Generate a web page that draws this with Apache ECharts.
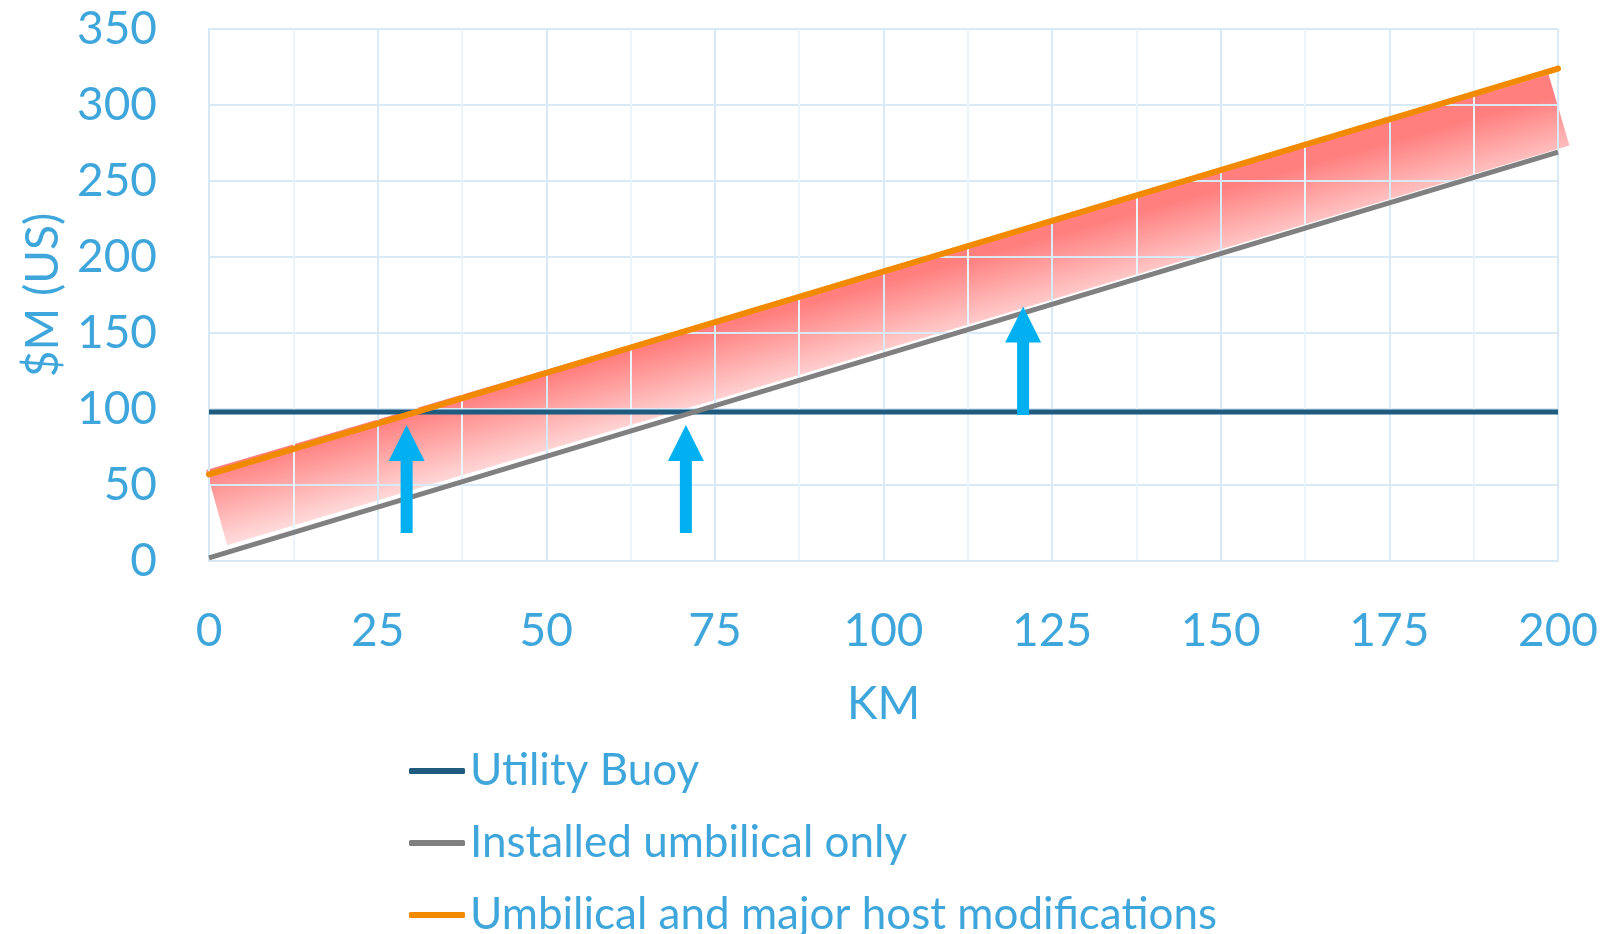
<!DOCTYPE html>
<html>
<head>
<meta charset="utf-8">
<title>Utility buoy vs umbilical cost</title>
<script src="https://cdn.jsdelivr.net/npm/echarts@6/dist/echarts.min.js"></script>
<style>
  html, body { margin: 0; padding: 0; background: #fff; }
  #chart { width: 1603px; height: 934px; }
</style>
</head>
<body>
<div id="chart"></div>
<script>
// values
var seriesNames = ['Utility Buoy', 'Installed umbilical only', 'Umbilical and major host modifications'];
var kmPoints = [0, 200];
var utilityBuoy = [98, 98];
var umbilicalOnly = [2, 269];
var umbilicalHost = [57, 324];

// shaded band behind the lines (corners, in km / $M)
var bandX = [-0.4, 198.6, 201.7, 2.7];
var bandY = [59.8, 320, 273.3, 10.3];

// arrows: km position, foot value, tip value
var arrowX = [29.3, 70.7, 120.7];
var arrowFrom = [18.5, 18.5, 96];
var arrowTo = [89.4, 89.4, 167.4];

var textColor = '#3fa6dc';
var font = 'Lato';

function pairs(xs, ys) {
  return xs.map(function (x, i) { return [x, ys[i]]; });
}

var chart = echarts.init(document.getElementById('chart'));

var option = {
  animation: false,
  grid: { left: 209, right: 45, top: 29, bottom: 373, containLabel: false },
  legend: {
    orient: 'vertical',
    left: 404,
    top: 744,
    height: 400,
    itemWidth: 56,
    itemHeight: 6,
    itemGap: 28,
    icon: 'roundRect',
    data: seriesNames,
    textStyle: { color: textColor, fontSize: 44, fontFamily: font, lineHeight: 44 }
  },
  xAxis: {
    type: 'value',
    min: 0,
    max: 200,
    interval: 25,
    name: 'KM',
    nameLocation: 'middle',
    nameGap: 120,
    nameTextStyle: { color: textColor, fontSize: 46, fontFamily: font },
    axisLine: { show: true, lineStyle: { color: '#d6e8f5', width: 2 } },
    axisTick: { show: false },
    axisLabel: { color: textColor, fontSize: 46, fontFamily: font, margin: 47 },
    splitLine: { show: true, lineStyle: { color: '#d9eaf6', width: 2 } },
    minorTick: { show: false, splitNumber: 2 },
    minorSplitLine: { show: true, lineStyle: { color: '#ebf4fb', width: 2 } }
  },
  yAxis: {
    type: 'value',
    min: 0,
    max: 350,
    interval: 50,
    name: '$M (US)',
    nameLocation: 'middle',
    nameGap: 140,
    nameTextStyle: { color: textColor, fontSize: 46, fontFamily: font },
    axisLine: { show: true, lineStyle: { color: '#d6e8f5', width: 2 } },
    axisTick: { show: false },
    axisLabel: { color: textColor, fontSize: 46, fontFamily: font, margin: 52 },
    splitLine: { show: true, lineStyle: { color: '#d9eaf6', width: 2 } }
  },
  series: [
    {
      type: 'custom',
      name: 'band',
      z: -1,
      clip: false,
      silent: true,
      data: [[0]],
      renderItem: function (params, api) {
        var pts = bandX.map(function (x, i) { return api.coord([x, bandY[i]]); });
        return {
          type: 'polygon',
          shape: { points: pts },
          style: {
            fill: {
              type: 'linear',
              x: pts[0][0], y: pts[0][1],
              x2: pts[3][0], y2: pts[3][1],
              global: true,
              colorStops: [
                { offset: 0, color: '#ff7e7e' },
                { offset: 1, color: '#ffdcdc' }
              ]
            }
          }
        };
      }
    },
    {
      type: 'line',
      name: seriesNames[0],
      data: pairs(kmPoints, utilityBuoy),
      showSymbol: false,
      color: '#1e5b7e',
      lineStyle: { width: 5, color: '#1e5b7e' }
    },
    {
      type: 'line',
      name: seriesNames[1],
      data: pairs(kmPoints, umbilicalOnly),
      showSymbol: false,
      color: '#808080',
      lineStyle: { width: 5, color: '#808080' }
    },
    {
      type: 'line',
      name: seriesNames[2],
      data: pairs(kmPoints, umbilicalHost),
      showSymbol: false,
      color: '#f28a00',
      lineStyle: { width: 6, color: '#f28a00', cap: 'round' }
    },
    {
      type: 'custom',
      name: 'arrows',
      z: 10,
      clip: false,
      silent: true,
      data: arrowX.map(function (x, i) { return [x, arrowFrom[i], arrowTo[i]]; }),
      renderItem: function (params, api) {
        var foot = api.coord([api.value(0), api.value(1)]);
        var tip = api.coord([api.value(0), api.value(2)]);
        var headH = 36, headW = 36, shaftW = 12;
        var cx = tip[0];
        return {
          type: 'group',
          children: [
            {
              type: 'rect',
              shape: { x: cx - shaftW / 2, y: tip[1] + headH - 1, width: shaftW, height: foot[1] - tip[1] - headH + 1 },
              style: { fill: '#00b0f0' }
            },
            {
              type: 'polygon',
              shape: { points: [[cx, tip[1]], [cx + headW / 2, tip[1] + headH], [cx - headW / 2, tip[1] + headH]] },
              style: { fill: '#00b0f0' }
            }
          ]
        };
      }
    }
  ]
};

chart.setOption(option);
</script>
</body>
</html>
